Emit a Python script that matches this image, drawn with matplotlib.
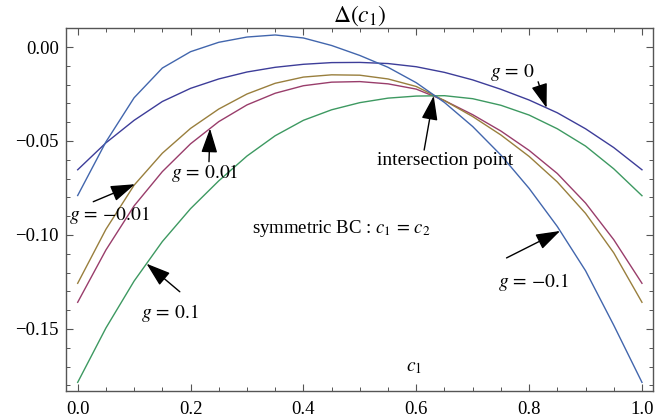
import numpy as np
import matplotlib
matplotlib.use("Agg")
import matplotlib.pyplot as plt

plt.rcParams['font.family'] = ['Liberation Serif', 'DejaVu Serif']
plt.rcParams['mathtext.fontset'] = 'stix'

# c1 grid and Delta(c1) for each coupling g
c1 = [0.00, 0.05, 0.10, 0.15, 0.20, 0.25, 0.30, 0.35, 0.40, 0.45, 0.50,
      0.55, 0.60, 0.65, 0.70, 0.75, 0.80, 0.85, 0.90, 0.95, 1.00]

delta_g0 = [-0.0653, -0.0510, -0.0390, -0.0290, -0.0220, -0.0170, -0.0133,
            -0.0108, -0.0092, -0.0083, -0.0082, -0.0088, -0.0105, -0.0135,
            -0.0175, -0.0225, -0.0282, -0.0350, -0.0435, -0.0535, -0.0653]
delta_gp001 = [-0.1358, -0.1080, -0.0845, -0.0663, -0.0515, -0.0397, -0.0308,
               -0.0246, -0.0206, -0.0187, -0.0184, -0.0196, -0.0224, -0.0285,
               -0.0360, -0.0447, -0.0550, -0.0673, -0.0830, -0.1025, -0.1257]
delta_gm001 = [-0.1257, -0.0970, -0.0735, -0.0565, -0.0433, -0.0330, -0.0250,
               -0.0193, -0.0160, -0.0148, -0.0150, -0.0170, -0.0210, -0.0285,
               -0.0370, -0.0468, -0.0582, -0.0718, -0.0885, -0.1095, -0.1358]
delta_gp01 = [-0.1784, -0.1495, -0.1245, -0.1035, -0.0860, -0.0712, -0.0580,
              -0.0472, -0.0390, -0.0334, -0.0296, -0.0272, -0.0261, -0.0259,
              -0.0275, -0.0310, -0.0362, -0.0435, -0.0527, -0.0648, -0.0791]
delta_gm01 = [-0.0790, -0.0505, -0.0270, -0.0112, -0.0025, 0.0025, 0.0053,
              0.0064, 0.0048, 0.0008, -0.0045, -0.0108, -0.0190, -0.0295,
              -0.0423, -0.0575, -0.0752, -0.0955, -0.1190, -0.1480, -0.1784]

x_ticks = [0.0, 0.2, 0.4, 0.6, 0.8, 1.0]
x_labels = ['0.0', '0.2', '0.4', '0.6', '0.8', '1.0']
y_ticks = [-0.15, -0.10, -0.05, 0.00]
y_labels = ['\u22120.15', '\u22120.10', '\u22120.05', '0.00']

series = [
    (delta_g0, '#3d3d99'),
    (delta_gp001, '#993d6b'),
    (delta_gm001, '#997f3d'),
    (delta_gp01, '#3d9961'),
    (delta_gm01, '#4266ad'),
]

fig = plt.figure(figsize=(6.68, 4.2), dpi=100)
ax = fig.add_axes([0.0988, 0.069, 0.8787, 0.8643])

for ys, col in series:
    ax.plot(c1, ys, color=col, lw=1.0)

ax.set_xlim(-0.0207, 1.0195)
ax.set_ylim(-0.183, 0.0101)

frame = '#555555'
for sp in ax.spines.values():
    sp.set_color(frame)
    sp.set_linewidth(1.0)

ax.set_xticks(x_ticks)
ax.set_xticklabels(x_labels)
ax.set_yticks(y_ticks)
ax.set_yticklabels(y_labels)
ax.set_xticks(np.arange(0, 1.001, 0.05), minor=True)
ax.set_yticks(np.arange(-0.18, 0.001, 0.01), minor=True)
ax.tick_params(which='both', direction='in', top=True, right=True,
               color=frame, labelsize=13.5)
ax.tick_params(which='major', length=5, width=0.8)
ax.tick_params(which='minor', length=3, width=0.7)
ax.tick_params(axis='x', pad=7)
ax.tick_params(axis='y', pad=5)

ax.set_title(r'$\Delta(c_1)$', fontsize=17, pad=2)


def on_curve(ys, c):
    return float(np.interp(c, c1, ys))


arrow = dict(arrowstyle='-|>,head_length=0.75,head_width=0.25',
             color='black', lw=1.0, mutation_scale=20, shrinkA=0, shrinkB=0)

notes = [
    (r'$g\,=\,0$', delta_g0, 0.831, (0.816, -0.0185), (0.770, -0.0133)),
    ('intersection point', delta_gp01, 0.631, (0.614, -0.0548), (0.651, -0.0606)),
    (r'$g\,=\,0.01$', delta_gp001, 0.2345, (0.2327, -0.0610), (0.226, -0.0670)),
    (r'$g\,=\,{-}0.01$', delta_gm001, 0.1015, (0.0276, -0.0823), (0.057, -0.0894)),
    (r'$g\,=\,0.1$', delta_gp01, 0.122, (0.181, -0.1302), (0.1636, -0.1415)),
    (r'$g\,=\,{-}0.1$', delta_gm01, 0.855, (0.760, -0.1122), (0.807, -0.1250)),
]
for label, ys, c_tip, tail, txt in notes:
    ax.annotate('', xy=(c_tip, on_curve(ys, c_tip)), xytext=tail,
                arrowprops=arrow)
    ax.text(txt[0], txt[1], label, fontsize=14, ha='center', va='center')

ax.text(0.4668, -0.0963, r'symmetric BC : $c_1\,=\,c_2$', fontsize=13.5,
        ha='center', va='center')
ax.text(0.596, -0.1707, r'$c_1$', fontsize=14, ha='center', va='center')

fig.savefig('out.png', dpi=100)
